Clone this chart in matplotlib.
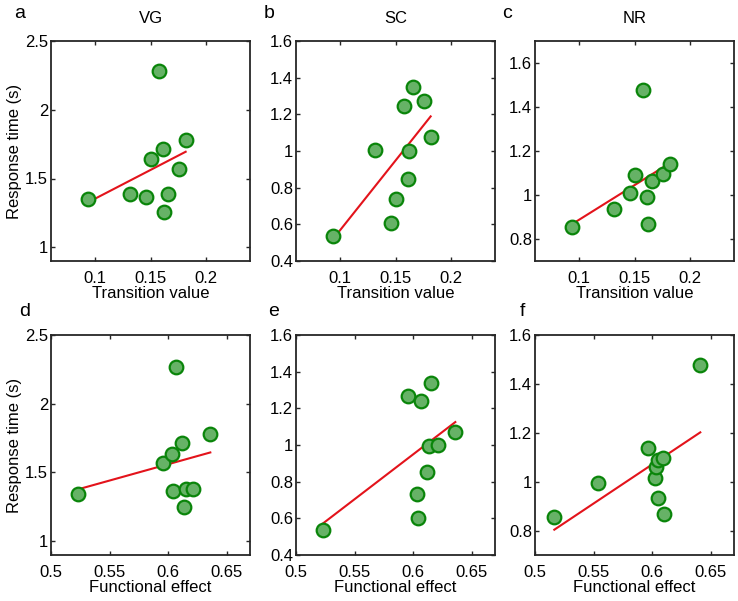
import numpy as np
import matplotlib
matplotlib.use("Agg")
import matplotlib.pyplot as plt

plt.rcParams["font.family"] = ["Liberation Sans", "DejaVu Sans"]

# shared x values (one per subject)
transition = [0.0932, 0.1318, 0.1458, 0.1502, 0.1580, 0.1615, 0.1618, 0.1657, 0.1762, 0.1818]
func_effect = [0.5228, 0.5954, 0.6031, 0.6046, 0.6071, 0.6122, 0.6140, 0.6149, 0.6213, 0.6361]
func_effect_nr = [0.5165, 0.5538, 0.5968, 0.6025, 0.6034, 0.6048, 0.6051, 0.6091, 0.6105, 0.6412]

# response times, top row (ordered like transition)
rt_vg_top = [1.349, 1.388, 1.366, 1.639, 2.280, 1.715, 1.254, 1.388, 1.570, 1.780]
rt_sc_top = [0.538, 1.004, 0.606, 0.738, 1.244, 0.850, 0.998, 1.347, 1.275, 1.075]
rt_nr_top = [0.855, 0.936, 1.010, 1.090, 1.476, 0.992, 0.870, 1.064, 1.096, 1.140]

# response times, bottom row
rt_vg_bot = [1.344, 1.567, 1.634, 1.363, 2.267, 1.712, 1.249, 1.380, 1.380, 1.780]
rt_sc_bot = [0.536, 1.267, 0.734, 0.604, 1.240, 0.851, 0.997, 1.340, 1.002, 1.069]
rt_nr_bot = [0.856, 0.993, 1.137, 1.013, 1.059, 1.090, 0.932, 1.095, 0.869, 1.478]

titles = ["VG", "SC", "NR"]
letters = ["a", "b", "c", "d", "e", "f"]

panels = [
    (transition, rt_vg_top, (0.06, 0.24), (0.9, 2.5), [0.1, 0.15, 0.2], [1, 1.5, 2, 2.5], "Transition value"),
    (transition, rt_sc_top, (0.06, 0.24), (0.4, 1.6), [0.1, 0.15, 0.2], [0.4, 0.6, 0.8, 1, 1.2, 1.4, 1.6], "Transition value"),
    (transition, rt_nr_top, (0.06, 0.24), (0.7, 1.7), [0.1, 0.15, 0.2], [0.8, 1, 1.2, 1.4, 1.6], "Transition value"),
    (func_effect, rt_vg_bot, (0.5, 0.67), (0.9, 2.5), [0.5, 0.55, 0.6, 0.65], [1, 1.5, 2, 2.5], "Functional effect"),
    (func_effect, rt_sc_bot, (0.5, 0.67), (0.4, 1.6), [0.5, 0.55, 0.6, 0.65], [0.4, 0.6, 0.8, 1, 1.2, 1.4, 1.6], "Functional effect"),
    (func_effect_nr, rt_nr_bot, (0.5, 0.67), (0.7, 1.6), [0.5, 0.55, 0.6, 0.65], [0.8, 1, 1.2, 1.4, 1.6], "Functional effect"),
]

fig = plt.figure(figsize=(7.38, 6.01), dpi=100)
W, H = 738, 601
lefts = [51, 296, 535]
tops = [41, 335]
aw, ah = 199, 220

def fmt(v):
    return ("%g" % v)

for i, (x, y, xl, yl, xt, yt, xlabel) in enumerate(panels):
    r, c = divmod(i, 3)
    ax = fig.add_axes([lefts[c] / W, 1 - (tops[r] + ah) / H, aw / W, ah / H])
    x = np.array(x)
    y = np.array(y)
    k, b = np.polyfit(x, y, 1)
    xs = np.array([x.min(), x.max()])
    ax.plot(xs, k * xs + b, color="#e3131b", lw=1.5, zorder=2)
    ax.plot(x, y, "o", ms=9.8, mfc="#66b266", mec="#0a850a", mew=1.6, zorder=3)
    ax.set_xlim(xl)
    ax.set_ylim(yl)
    ax.set_xticks(xt)
    ax.set_yticks(yt)
    ax.set_xticklabels([fmt(v) for v in xt])
    ax.set_yticklabels([fmt(v) for v in yt])
    ax.tick_params(direction="in", length=3, width=1, top=True, right=True,
                   labelsize=12, color="#262626")
    ax.tick_params(axis="x", pad=7)
    ax.tick_params(axis="y", pad=2)
    for s in ax.spines.values():
        s.set_linewidth(1.3)
        s.set_color("#262626")
    ax.set_xlabel(xlabel, fontsize=12, labelpad=0)
    if c == 0:
        ax.set_ylabel("Response time (s)", fontsize=12, labelpad=2)
    if r == 0:
        ax.set_title(titles[c], fontsize=12, pad=13)

letter_pos = [(20, 13), (269, 13), (507, 14), (25, 311), (274, 312), (522, 311)]
for L, (px, py) in zip(letters, letter_pos):
    fig.text(px / W, 1 - py / H, L, fontsize=14, ha="center", va="center")

fig.savefig("out.png", dpi=100)
